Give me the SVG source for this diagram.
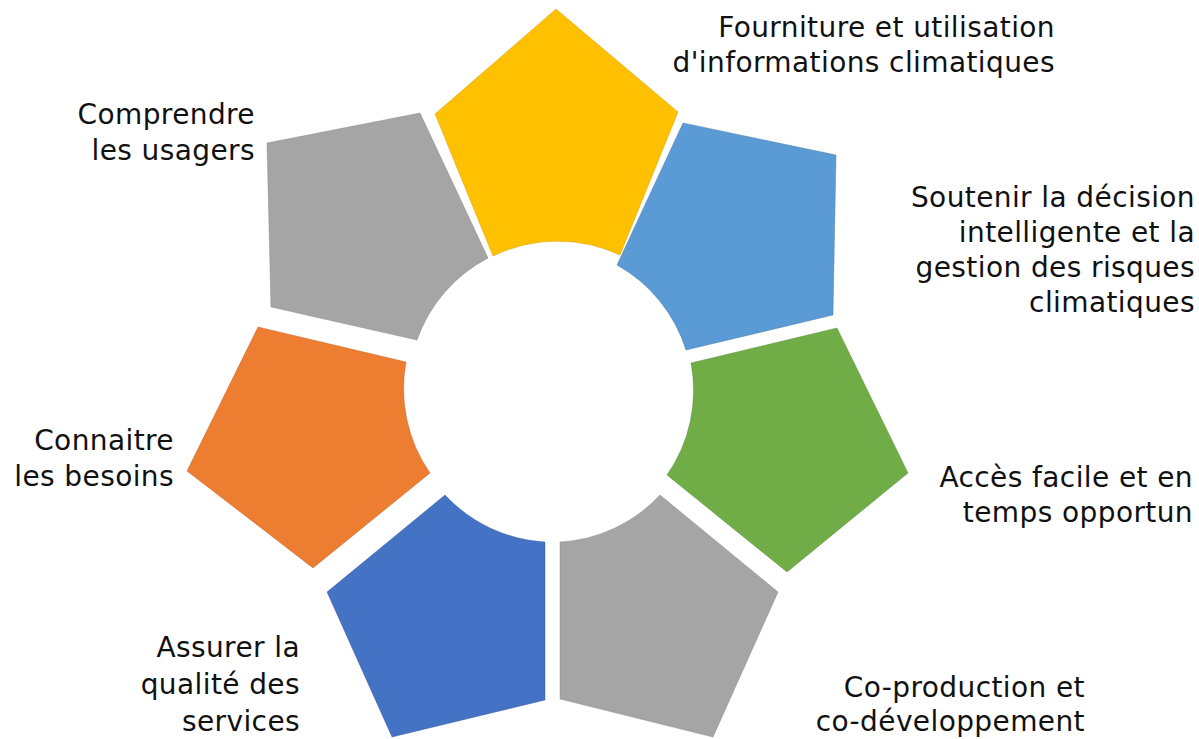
<svg xmlns="http://www.w3.org/2000/svg" width="1199" height="739" viewBox="0 0 1199 739">
<style>
.lbl{font-family:"DejaVu Sans","Liberation Sans",sans-serif;font-size:28px;letter-spacing:0.4px;fill:#111;text-anchor:end}
.sh{stroke-width:0.8;stroke-opacity:0.5}
</style>
<rect width="1199" height="739" fill="#fff"/>
<g id="n-fourniture">
<path class="sh" d="M556,9 L678,112 L620,255 A148,148 0 0 0 493,256 L435,114 Z" fill="#FFC000" stroke="#C99700"/>
<text class="lbl" x="1055" y="37">Fourniture et utilisation</text>
<text class="lbl" x="1055" y="72">d'informations climatiques</text>
</g>
<g id="n-soutenir">
<path class="sh" d="M683,123 L836,155 L833,315 L686,350 A148,148 0 0 0 617,265 Z" fill="#5B9BD5" stroke="#41719C"/>
<text class="lbl" x="1195" y="207">Soutenir la décision</text>
<text class="lbl" x="1195" y="242">intelligente et la</text>
<text class="lbl" x="1195" y="277">gestion des risques</text>
<text class="lbl" x="1195" y="312">climatiques</text>
</g>
<g id="n-acces">
<path class="sh" d="M837,328 L908,473 L787,572 L667,475 A148,148 0 0 0 691,363 Z" fill="#70AD47" stroke="#507E32"/>
<text class="lbl" x="1193" y="487">Accès facile et en</text>
<text class="lbl" x="1193" y="522">temps opportun</text>
</g>
<g id="n-coproduction">
<path class="sh" d="M660,495 L778,592 L713,737 L560,699 L560,542 A148,148 0 0 0 660,495 Z" fill="#A5A5A5" stroke="#7C7C7C"/>
<text class="lbl" x="1085" y="697">Co-production et</text>
<text class="lbl" x="1085" y="731">co-développement</text>
</g>
<g id="n-assurer">
<path class="sh" d="M445,495 A148,148 0 0 0 545,542 L545,700 L392,737 L327,592 Z" fill="#4472C4" stroke="#2F528F"/>
<text class="lbl" x="300" y="657">Assurer la</text>
<text class="lbl" x="300" y="694">qualité des</text>
<text class="lbl" x="300" y="731">services</text>
</g>
<g id="n-connaitre">
<path class="sh" d="M258,327 L406,362 A148,148 0 0 0 430,473 L313,568 L187,471 Z" fill="#ED7D31" stroke="#AE5A21"/>
<text class="lbl" x="174" y="450">Connaitre</text>
<text class="lbl" x="174" y="486">les besoins</text>
</g>
<g id="n-comprendre">
<path class="sh" d="M267,143 L420,113 L488,258 A148,148 0 0 0 417,340 L271,307 Z" fill="#A5A5A5" stroke="#7C7C7C"/>
<text class="lbl" x="255" y="124">Comprendre</text>
<text class="lbl" x="255" y="160">les usagers</text>
</g>
<g id="connectors"></g>
</svg>
